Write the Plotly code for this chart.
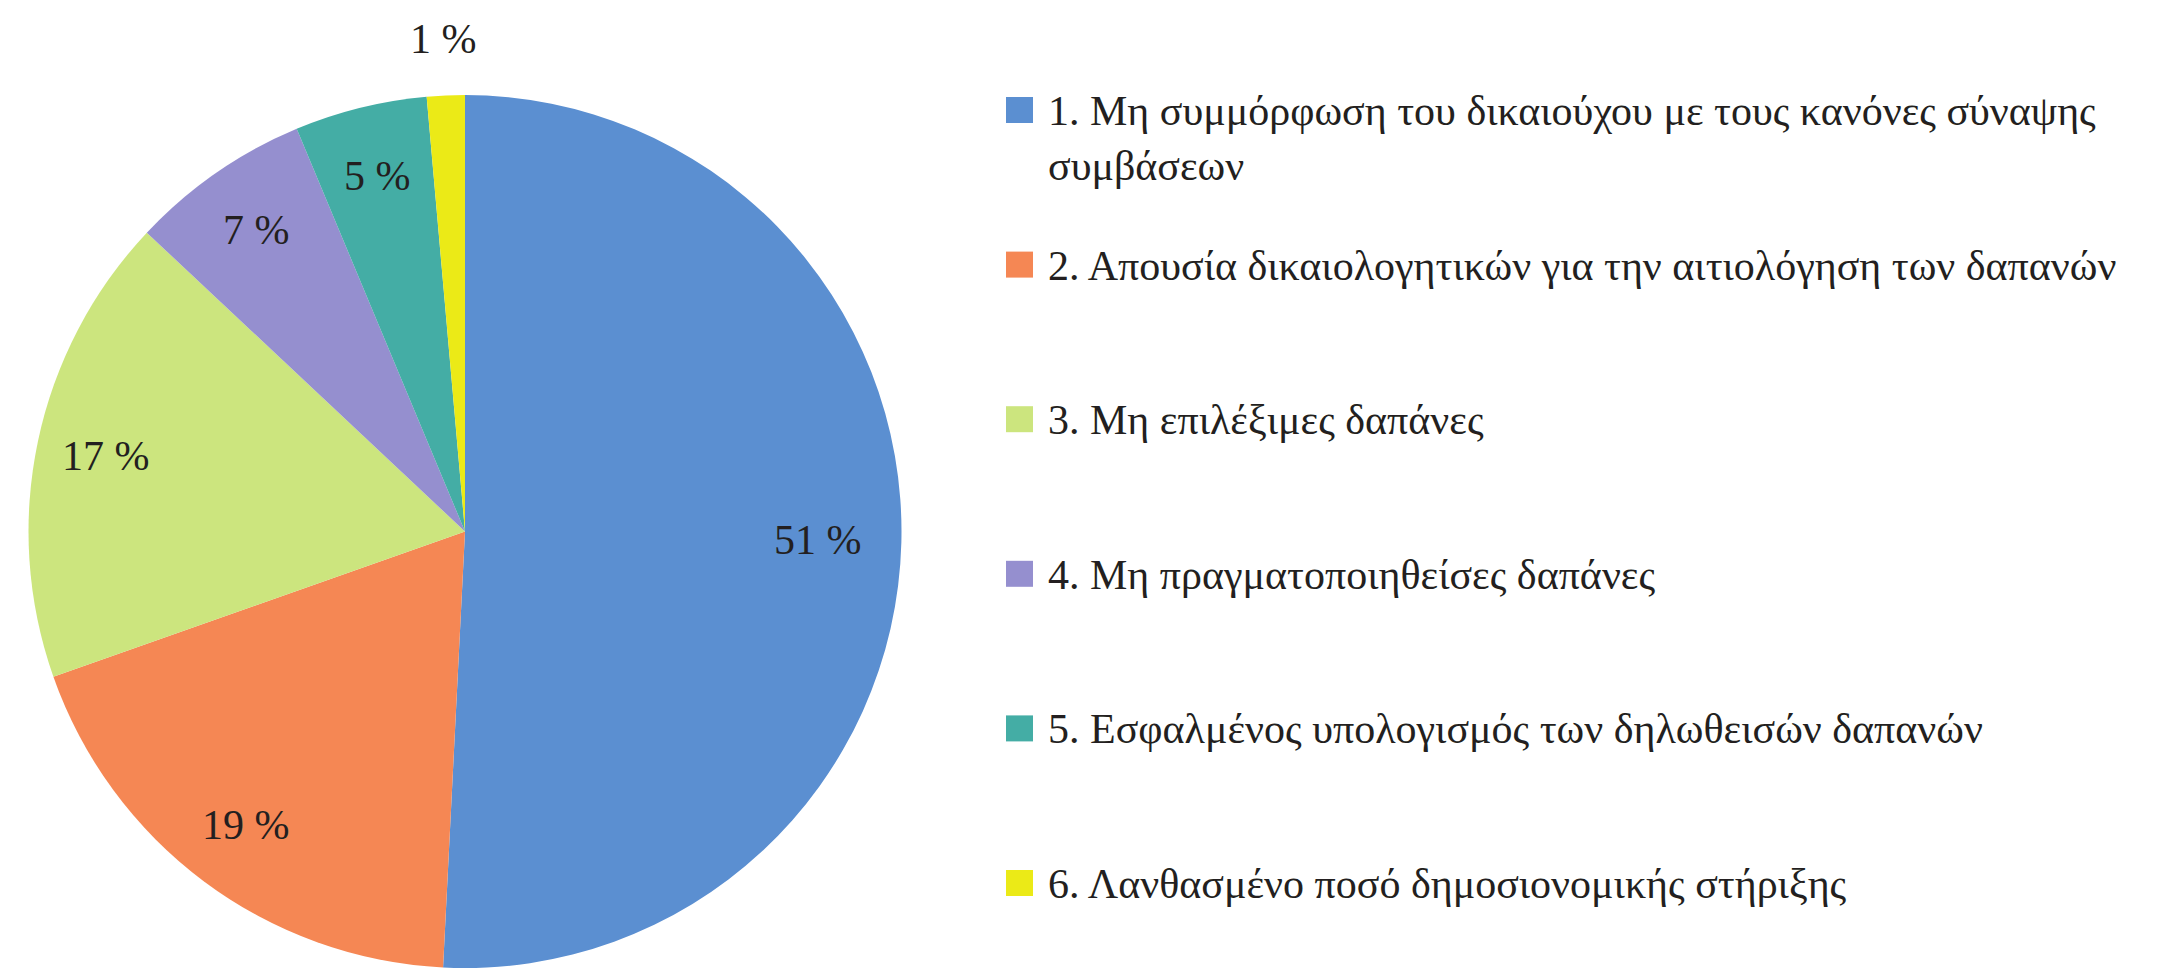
import math
import textwrap
import plotly.graph_objects as go

# ---- data ----
categories = [
    "1. Μη συμμόρφωση του δικαιούχου με τους κανόνες σύναψης συμβάσεων",
    "2. Απουσία δικαιολογητικών για την αιτιολόγηση των δαπανών",
    "3. Μη επιλέξιμες δαπάνες",
    "4. Μη πραγματοποιηθείσες δαπάνες",
    "5. Εσφαλμένος υπολογισμός των δηλωθεισών δαπανών",
    "6. Λανθασμένο ποσό δημοσιονομικής στήριξης",
]
shares = [50.8, 18.8, 17.4, 6.7, 4.9, 1.4]
colors = ["#5b8fd1", "#f58754", "#cce57e", "#958fcf", "#44ada5", "#ebea17"]

W, H = 2163, 978
FONT = "Liberation Serif"
TEXT_COLOR = "#231f20"

# pie geometry (pixels)
cx, cy, R = 465.0, 531.5, 436.5


def px(x):
    return x / W


def py(y):
    return 1 - y / H


fig = go.Figure(
    go.Pie(
        values=shares,
        labels=categories,
        marker=dict(colors=colors, line=dict(width=0)),
        sort=False,
        direction="clockwise",
        rotation=0,
        textinfo="none",
        hoverinfo="label+percent",
        showlegend=False,
        domain=dict(x=[px(cx - R), px(cx + R)], y=[py(cy + R), py(cy - R)]),
    )
)

annotations = []
shapes = []

# percentage labels at slice mid-angles
total = sum(shares)
cum = 0.0
for v in shares:
    frac = v / total
    mid = (cum + frac / 2) * 2 * math.pi
    cum += frac
    if frac > 0.3:
        r = 0.81 * R
    elif frac > 0.03:
        r = 0.84 * R
    else:
        r = 1.13 * R
    x = cx + r * math.sin(mid)
    y = cy - r * math.cos(mid)
    annotations.append(
        dict(
            x=px(x), y=py(y), xref="paper", yref="paper",
            text=f"{round(v)} %", showarrow=False,
            font=dict(family=FONT, size=42, color=TEXT_COLOR),
            xanchor="center", yanchor="middle",
        )
    )

# legend (custom, to match large square keys and spacing)
pitch = 154.6
for i, (lab, col) in enumerate(zip(categories, colors)):
    top = 97 + i * pitch
    shapes.append(
        dict(
            type="rect", xref="paper", yref="paper",
            x0=px(1006), x1=px(1033), y0=py(top + 26), y1=py(top),
            fillcolor=col, line=dict(width=0),
        )
    )
    txt = "<br>".join(textwrap.wrap(lab, width=58))
    annotations.append(
        dict(
            x=px(1046), y=py(top - 11), xref="paper", yref="paper",
            text=txt, showarrow=False, align="left",
            font=dict(family=FONT, size=42, color=TEXT_COLOR),
            xanchor="left", yanchor="top",
        )
    )

fig.update_layout(
    width=W, height=H,
    margin=dict(l=0, r=0, t=0, b=0),
    paper_bgcolor="white", plot_bgcolor="white",
    font=dict(family=FONT, color=TEXT_COLOR),
    annotations=annotations,
    shapes=shapes,
)

fig.write_html(
    "out.html",
    config={"displayModeBar": False},
    post_script="document.body.style.margin='0';document.body.style.overflow='hidden';",
)
